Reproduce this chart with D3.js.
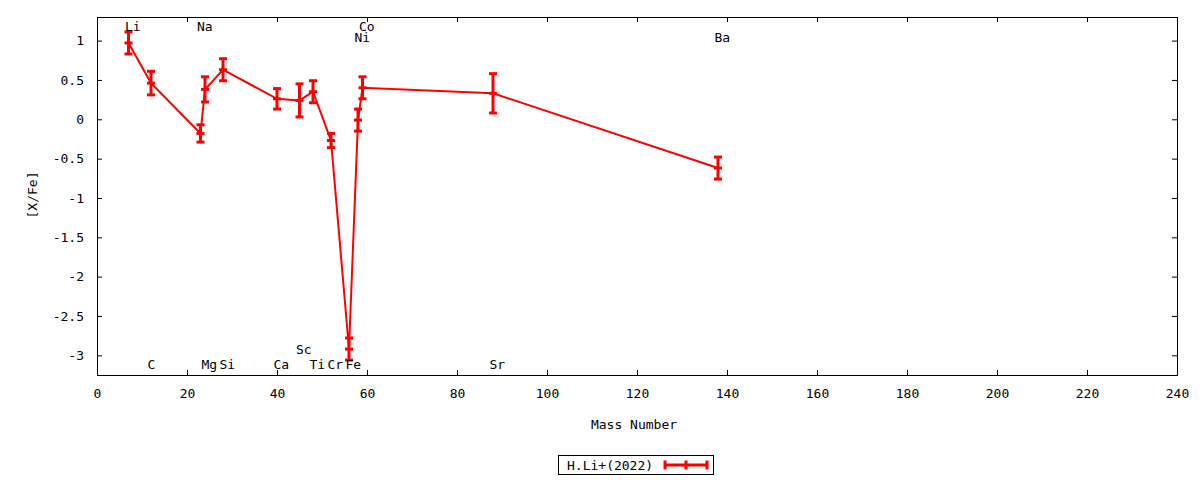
<!DOCTYPE html>
<html>
<head>
<meta charset="utf-8">
<script src="https://cdn.jsdelivr.net/npm/d3@7"></script>
<style>
  html, body { margin: 0; padding: 0; background: #fff; }
  svg { display: block; }
  text { font-family: "DejaVu Sans Mono", monospace; font-size: 13px; fill: #000; }
</style>
</head>
<body>
<svg id="chart" width="1200" height="480"></svg>
<script>
// ---- data ----
const elements   = ["Li", "C", "Na", "Mg", "Si", "Ca", "Sc", "Ti", "Cr", "Fe", "Ni", "Co", "Sr", "Ba"];
const massNumber = [7, 12, 23, 24, 28, 40, 45, 48, 52, 56, 58, 59, 88, 138];
const xFe        = [0.97, 0.46, -0.18, 0.38, 0.63, 0.26, 0.24, 0.35, -0.27, -2.92, -0.01, 0.40, 0.33, -0.62];
const xFeErr     = [0.14, 0.15, 0.11, 0.16, 0.14, 0.13, 0.21, 0.14, 0.09, 0.14, 0.14, 0.14, 0.25, 0.14];
// label rows: "t1" top, "t2" second from top, "b1" bottom, "b2" second from bottom
const labelRow   = ["t1", "b1", "t1", "b1", "b1", "b1", "b2", "b1", "b1", "b1", "t2", "t1", "b1", "t2"];
const xTicks     = [0, 20, 40, 60, 80, 100, 120, 140, 160, 180, 200, 220, 240];
const yTicks     = [-3, -2.5, -2, -1.5, -1, -0.5, 0, 0.5, 1];
const seriesName = "H.Li+(2022)";
const xTitle     = "Mass Number";
const yTitle     = "[X/Fe]";

// ---- layout ----
const L = 97, R = 1177, T = 17, B = 375;
const RED = "#ff0000";
const svg = d3.select("#chart");

const x = d3.scaleLinear().domain([0, 240]).range([L, R]);
const y = d3.scaleLinear().domain([-3.25, 1.3]).range([B, T]);

const fmt = d => String(d);

// axes (inward ticks, mirrored)
const tick = 5;
const axB = svg.append("g").attr("transform", `translate(0,${B})`)
  .call(d3.axisBottom(x).tickValues(xTicks).tickFormat(fmt).tickSizeInner(-tick).tickSizeOuter(0).tickPadding(14));
const axT = svg.append("g").attr("transform", `translate(0,${T})`)
  .call(d3.axisTop(x).tickValues(xTicks).tickFormat("").tickSizeInner(-tick).tickSizeOuter(0));
const axL = svg.append("g").attr("transform", `translate(${L},0)`)
  .call(d3.axisLeft(y).tickValues(yTicks).tickFormat(fmt).tickSizeInner(-tick).tickSizeOuter(0).tickPadding(13));
const axR = svg.append("g").attr("transform", `translate(${R},0)`)
  .call(d3.axisRight(y).tickValues(yTicks).tickFormat("").tickSizeInner(-tick).tickSizeOuter(0));

[axB, axT, axL, axR].forEach(g => {
  g.select(".domain").remove();
  g.selectAll("line").attr("stroke", "#000").attr("stroke-width", 1);
  g.selectAll("text").attr("font-family", "DejaVu Sans Mono").attr("font-size", 13).attr("fill", "#000");
});
// hide ticks at the very ends which coincide with borders
axB.selectAll(".tick").filter(d => d === 0 || d === 240).select("line").remove();
axT.selectAll(".tick").filter(d => d === 0 || d === 240).select("line").remove();

// border
svg.append("rect").attr("x", L + 0.5).attr("y", T + 0.5)
  .attr("width", R - L).attr("height", B - T)
  .attr("fill", "none").attr("stroke", "#000").attr("stroke-width", 1);

// axis titles
svg.append("text").attr("x", 634).attr("y", 429).attr("text-anchor", "middle").text(xTitle);
svg.append("text").attr("transform", "translate(37,195) rotate(-90)").attr("text-anchor", "middle").text(yTitle);

// data
const pts = massNumber.map((m, i) => ({ m, v: xFe[i], e: xFeErr[i], name: elements[i], row: labelRow[i] }));

const plot = svg.append("g");
plot.append("path").datum(pts)
  .attr("fill", "none").attr("stroke", RED).attr("stroke-width", 2)
  .attr("d", d3.line().x(d => x(d.m)).y(d => y(d.v)));

const cap = 4;
const eb = plot.selectAll(".eb").data(pts).enter().append("g");
eb.append("line").attr("x1", d => x(d.m)).attr("x2", d => x(d.m))
  .attr("y1", d => y(d.v - d.e)).attr("y2", d => y(d.v + d.e))
  .attr("stroke", RED).attr("stroke-width", 3);
[d => d.v - d.e, d => d.v + d.e, d => d.v].forEach(fn => {
  eb.append("line").attr("x1", d => x(d.m) - cap).attr("x2", d => x(d.m) + cap)
    .attr("y1", d => y(fn(d))).attr("y2", d => y(fn(d)))
    .attr("stroke", RED).attr("stroke-width", 3);
});

// element labels
const rowVal = { t1: 1.18, t2: 1.04, b1: -3.11, b2: -2.93 };
svg.append("g").selectAll("text").data(pts).enter().append("text")
  .attr("x", d => x(d.m) - 3.5)
  .attr("y", d => y(rowVal[d.row]))
  .attr("dy", "0.35em")
  .attr("text-anchor", "start")
  .text(d => d.name);

// legend
const lg = svg.append("g");
lg.append("rect").attr("x", 558.5).attr("y", 455.5).attr("width", 155).attr("height", 19)
  .attr("fill", "#fff").attr("stroke", "#000").attr("stroke-width", 1);
lg.append("text").attr("x", 567).attr("y", 465).attr("dy", "0.35em").text(seriesName);
lg.append("line").attr("x1", 665).attr("x2", 707).attr("y1", 465).attr("y2", 465)
  .attr("stroke", RED).attr("stroke-width", 3);
[665, 686, 707].forEach(px => {
  lg.append("line").attr("x1", px).attr("x2", px).attr("y1", 460.5).attr("y2", 469.5)
    .attr("stroke", RED).attr("stroke-width", 3);
});
</script>
</body>
</html>
